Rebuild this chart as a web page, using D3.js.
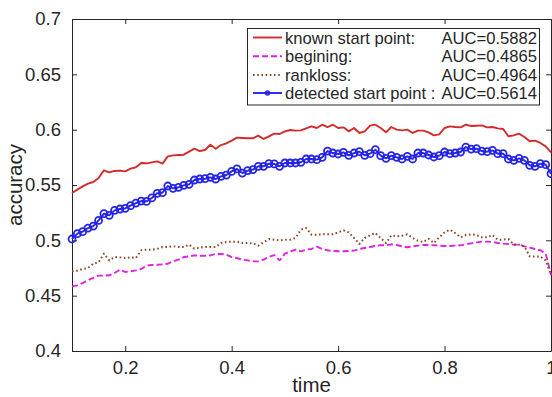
<!DOCTYPE html>
<html>
<head>
<meta charset="utf-8">
<script src="https://cdn.jsdelivr.net/npm/d3@7/dist/d3.min.js"></script>
<style>
  html, body { margin: 0; padding: 0; background: #fff; }
  svg { display: block; font-family: "Liberation Sans", Arial, Helvetica, sans-serif; }
</style>
</head>
<body>
<svg id="chart" width="552" height="397"></svg>
<script>
// Sampling grid of the time axis: 0.10, 0.11, ..., 1.00
const tStart = 0.10, tStep = 0.01, tCount = 91;
const times = d3.range(tCount).map(i => +(tStart + i * tStep).toFixed(2));

// Accuracy curves
const knownStart = [
  0.5428, 0.5458, 0.5488, 0.5512, 0.5527, 0.5563, 0.5633, 0.5614, 0.5627, 0.5630,
  0.5623, 0.5648, 0.5660, 0.5699, 0.5696, 0.5705, 0.5714, 0.5693, 0.5759, 0.5768,
  0.5771, 0.5774, 0.5801, 0.5828, 0.5807, 0.5816, 0.5864, 0.5828, 0.5861, 0.5877,
  0.5901, 0.5928, 0.5925, 0.5922, 0.5922, 0.5946, 0.5916, 0.5940, 0.5964, 0.5961,
  0.5985, 0.5997, 0.5991, 0.5994, 0.6012, 0.6030, 0.6015, 0.6045, 0.6024, 0.6045,
  0.6015, 0.6021, 0.5985, 0.6015, 0.5970, 0.5985, 0.6036, 0.6045, 0.6015, 0.5976,
  0.6024, 0.6000, 0.5994, 0.6000, 0.5970, 0.5991, 0.5991, 0.5976, 0.5949, 0.5958,
  0.6015, 0.6030, 0.6024, 0.6021, 0.6045, 0.6033, 0.6036, 0.6039, 0.6021, 0.6024,
  0.6012, 0.6006, 0.5940, 0.5949, 0.5964, 0.5934, 0.5895, 0.5901, 0.5880, 0.5849,
  0.5795
];
const begining = [
  0.4584, 0.4593, 0.4614, 0.4639, 0.4660, 0.4681, 0.4681, 0.4684, 0.4705, 0.4735,
  0.4714, 0.4720, 0.4729, 0.4741, 0.4771, 0.4777, 0.4780, 0.4783, 0.4789, 0.4810,
  0.4825, 0.4849, 0.4855, 0.4864, 0.4861, 0.4861, 0.4864, 0.4877, 0.4877, 0.4871,
  0.4849, 0.4840, 0.4825, 0.4819, 0.4810, 0.4810, 0.4825, 0.4849, 0.4867, 0.4819,
  0.4880, 0.4898, 0.4916, 0.4901, 0.4916, 0.4922, 0.4943, 0.4922, 0.4910, 0.4904,
  0.4901, 0.4901, 0.4904, 0.4907, 0.4922, 0.4931, 0.4940, 0.4949, 0.4955, 0.4955,
  0.4964, 0.4958, 0.4946, 0.4937, 0.4946, 0.4952, 0.4958, 0.4958, 0.4955, 0.4952,
  0.4949, 0.4949, 0.4952, 0.4955, 0.4964, 0.4973, 0.4982, 0.4988, 0.4988, 0.4985,
  0.4976, 0.4970, 0.4967, 0.4961, 0.4961, 0.4946, 0.4934, 0.4922, 0.4910, 0.4880,
  0.4687
];
const rankloss = [
  0.4720, 0.4726, 0.4741, 0.4750, 0.4789, 0.4801, 0.4880, 0.4819, 0.4849, 0.4846,
  0.4840, 0.4846, 0.4840, 0.4910, 0.4916, 0.4916, 0.4922, 0.4940, 0.4940, 0.4946,
  0.4940, 0.4940, 0.4961, 0.4925, 0.4934, 0.4940, 0.4940, 0.4940, 0.4976, 0.4985,
  0.4988, 0.4988, 0.4976, 0.4976, 0.4973, 0.4952, 0.4982, 0.5012, 0.5006, 0.5000,
  0.5006, 0.5006, 0.5021, 0.5096, 0.5111, 0.5051, 0.5051, 0.5054, 0.5054, 0.5054,
  0.5072, 0.5090, 0.5072, 0.5021, 0.4967, 0.5021, 0.5045, 0.5066, 0.5021, 0.4976,
  0.5045, 0.5036, 0.5042, 0.5054, 0.5021, 0.4997, 0.4985, 0.5015, 0.4976, 0.5027,
  0.5072, 0.5096, 0.5066, 0.5027, 0.5048, 0.5054, 0.5048, 0.5027, 0.5027, 0.5048,
  0.5006, 0.5006, 0.5012, 0.4961, 0.4961, 0.4946, 0.4855, 0.4855, 0.4855, 0.4819,
  0.4690
];
const detectedStart = [
  0.5012, 0.5060, 0.5078, 0.5111, 0.5129, 0.5180, 0.5241, 0.5226, 0.5271, 0.5283,
  0.5289, 0.5313, 0.5337, 0.5355, 0.5352, 0.5383, 0.5425, 0.5431, 0.5491, 0.5470,
  0.5479, 0.5497, 0.5506, 0.5545, 0.5554, 0.5557, 0.5569, 0.5554, 0.5578, 0.5590,
  0.5623, 0.5645, 0.5608, 0.5630, 0.5639, 0.5669, 0.5669, 0.5693, 0.5690, 0.5669,
  0.5699, 0.5699, 0.5699, 0.5705, 0.5735, 0.5735, 0.5729, 0.5750, 0.5807, 0.5789,
  0.5780, 0.5795, 0.5768, 0.5789, 0.5801, 0.5768, 0.5783, 0.5819, 0.5765, 0.5741,
  0.5765, 0.5750, 0.5735, 0.5759, 0.5735, 0.5789, 0.5789, 0.5771, 0.5753, 0.5765,
  0.5798, 0.5783, 0.5789, 0.5798, 0.5843, 0.5825, 0.5828, 0.5807, 0.5801, 0.5813,
  0.5783, 0.5783, 0.5735, 0.5723, 0.5741, 0.5723, 0.5678, 0.5669, 0.5693, 0.5684,
  0.5602
];

// Legend entries
const seriesNames = ["known start point:", "begining:", "rankloss:", "detected start point :"];
const aucLabels = ["AUC=0.5882", "AUC=0.4865", "AUC=0.4964", "AUC=0.5614"];

// Axis ticks
const xTicks = [0.2, 0.4, 0.6, 0.8, 1];
const yTicks = [0.4, 0.45, 0.5, 0.55, 0.6, 0.65, 0.7];

const series = [
  { values: knownStart,    color: "#d42a2a", dash: null,      width: 1.9, marker: false },
  { values: begining,      color: "#e020e6", dash: "6,3",     width: 1.9, marker: false },
  { values: rankloss,      color: "#8a4a2a", dash: "1.6,2.6", width: 2.0, marker: false },
  { values: detectedStart, color: "#2424e8", dash: null,      width: 1.9, marker: true  }
];

const axisColor = "#262626";
const svg = d3.select("#chart");
const plot = { left: 72, right: 551, top: 19, bottom: 351 };

const x = d3.scaleLinear().domain([0.1, 1]).range([plot.left, plot.right]);
const y = d3.scaleLinear().domain([0.4, 0.7]).range([plot.bottom, plot.top]);

// Axes with inward ticks on all four sides
const tickLen = 5;
const fmt = d => String(d);

const gx = svg.append("g").attr("transform", `translate(0,${plot.bottom})`)
  .call(d3.axisBottom(x).tickValues(xTicks).tickFormat(fmt).tickSizeInner(-tickLen).tickSizeOuter(0).tickPadding(10));
const gxTop = svg.append("g").attr("transform", `translate(0,${plot.top})`)
  .call(d3.axisTop(x).tickValues(xTicks).tickFormat("").tickSizeInner(-tickLen).tickSizeOuter(0));
const gy = svg.append("g").attr("transform", `translate(${plot.left},0)`)
  .call(d3.axisLeft(y).tickValues(yTicks).tickFormat(fmt).tickSizeInner(-tickLen).tickSizeOuter(0).tickPadding(11));
const gyRight = svg.append("g").attr("transform", `translate(${plot.right},0)`)
  .call(d3.axisRight(y).tickValues(yTicks).tickFormat("").tickSizeInner(-tickLen).tickSizeOuter(0));

[gx, gxTop, gy, gyRight].forEach(g => {
  g.select(".domain").attr("stroke", axisColor).attr("stroke-width", 1);
  g.selectAll(".tick line").attr("stroke", axisColor).attr("stroke-width", 1);
  g.selectAll(".tick text").attr("fill", axisColor).style("font-size", "18.5px")
    .style("font-family", "'Liberation Sans', Arial, Helvetica, sans-serif");
});

// Axis labels
svg.append("text")
  .attr("x", (plot.left + plot.right) / 2).attr("y", 392)
  .attr("text-anchor", "middle").attr("fill", axisColor)
  .style("font-size", "20.5px").text("time");
svg.append("text")
  .attr("transform", `translate(22,${(plot.top + plot.bottom) / 2}) rotate(-90)`)
  .attr("text-anchor", "middle").attr("fill", axisColor)
  .style("font-size", "20.5px").text("accuracy");

// Curves
const line = d3.line().x((d, i) => x(times[i])).y(d => y(d));
series.forEach(s => {
  svg.append("path")
    .datum(s.values)
    .attr("fill", "none")
    .attr("stroke", s.color)
    .attr("stroke-width", s.width)
    .attr("stroke-dasharray", s.dash)
    .attr("stroke-linejoin", "round")
    .attr("d", line);
  if (s.marker) {
    svg.append("g").selectAll("circle")
      .data(s.values)
      .join("circle")
      .attr("cx", (d, i) => x(times[i]))
      .attr("cy", d => y(d))
      .attr("r", 3.5)
      .attr("fill", "none")
      .attr("stroke", s.color)
      .attr("stroke-width", 1.8);
  }
});

// Legend
const legend = svg.append("g");
legend.append("rect")
  .attr("x", 247.5).attr("y", 28.5).attr("width", 292).attr("height", 76.5)
  .attr("fill", "#fff").attr("stroke", axisColor).attr("stroke-width", 1);
const rowY = [37.5, 56.3, 75, 93];
series.forEach((s, i) => {
  const ry = rowY[i];
  legend.append("line")
    .attr("x1", 253).attr("x2", 282).attr("y1", ry).attr("y2", ry)
    .attr("stroke", s.color).attr("stroke-width", s.width)
    .attr("stroke-dasharray", s.dash);
  if (s.marker) {
    legend.append("circle").attr("cx", 267.5).attr("cy", ry).attr("r", 2)
      .attr("fill", "none").attr("stroke", s.color).attr("stroke-width", 1.4);
  }
  legend.append("text")
    .attr("x", 285).attr("y", ry + 6)
    .attr("fill", axisColor).style("font-size", "16.6px")
    .text(seriesNames[i]);
  legend.append("text")
    .attr("x", 537).attr("y", ry + 6).attr("text-anchor", "end")
    .attr("fill", axisColor).style("font-size", "16.6px")
    .text(aucLabels[i]);
});
</script>
</body>
</html>
